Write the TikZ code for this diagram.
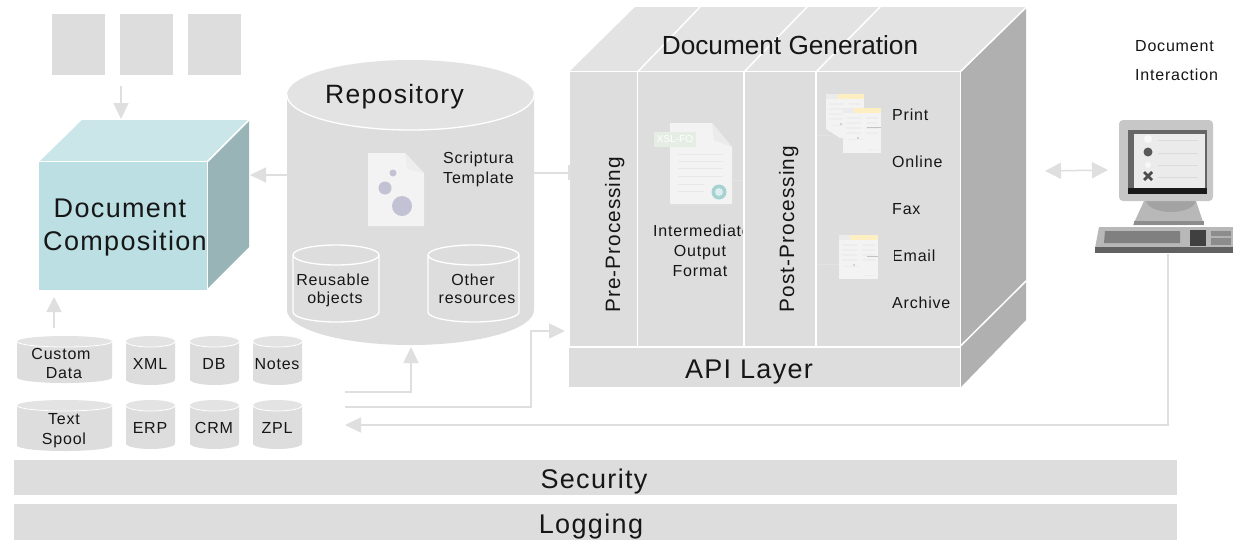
\documentclass[tikz,border=0pt]{standalone}
\usepackage{fontspec}
\setmainfont{Liberation Sans}
\newfontfamily\spc[LetterSpace=5]{Liberation Sans}
\usetikzlibrary{arrows.meta}
\definecolor{panel}{HTML}{DDDDDD}
\definecolor{topf}{HTML}{E3E3E3}
\definecolor{sidef}{HTML}{B0B0B0}
\definecolor{tealf}{HTML}{BBDFE2}
\definecolor{tealt}{HTML}{CBE6E8}
\definecolor{teals}{HTML}{98B4B7}
\definecolor{linec}{HTML}{DFDFDF}
\definecolor{paper}{HTML}{F3F3F3}
\definecolor{ink}{HTML}{161616}
\tikzset{
  conn/.style={draw=linec,line width=1.5pt},
  arr/.style={conn,-{Triangle[length=16pt,width=15pt]}},
  seam/.style={draw=white,line width=1.5pt},
  lbl/.style={inner sep=0pt,text=ink,font=\spc\fontsize{16pt}{18pt}\selectfont,anchor=base},
  lbll/.style={lbl,anchor=base west},
  big/.style={inner sep=0pt,text=ink,font=\spc\fontsize{27pt}{30pt}\selectfont,anchor=base},
  pageline/.style={draw=#1,line width=1pt},
  pageline/.default={black!13}
}
% x1 x2 ytop ybot ry
\newcommand{\dbcyl}[5]{%
  \fill[panel] (#1,{#3+#5}) -- (#2,{#3+#5}) -- (#2,{#4-#5})
     arc[start angle=0,end angle=180,x radius={(#2-#1)/2},y radius=#5] -- cycle;
  \fill[topf] ({(#1+#2)/2},{#3+#5}) ellipse[x radius={(#2-#1)/2},y radius=#5];
  \draw[white,line width=.8pt] (#1,{#3+#5}) arc[start angle=180,end angle=0,x radius={(#2-#1)/2},y radius=#5];
}
\newcommand{\incyl}[5]{%
  \draw[white,line width=1.3pt,fill=panel] (#1,{#3+#5}) -- (#1,{#4-#5})
     arc[start angle=180,end angle=0,x radius={(#2-#1)/2},y radius=#5] -- (#2,{#3+#5})
     arc[start angle=0,end angle=-180,x radius={(#2-#1)/2},y radius=#5];
  \draw[white,line width=1.3pt] (#1,{#3+#5}) arc[start angle=180,end angle=0,x radius={(#2-#1)/2},y radius=#5];
}
% x y w h yellowstart
\newcommand{\minidoc}[5]{%
  \fill[paper] (#1,#2) rectangle ++(#3,#4);
  \fill[black!8] (#1,#2) rectangle (#5,{#2+5});
  \fill[yellow!50!orange!22!white] (#5,#2) rectangle ({#1+#3},{#2+5});
  \foreach \yy in {10,15,20,25} {\draw[black!7,line width=1.1pt] ({#1+3},{#2+\yy}) -- ({#1+18},{#2+\yy});
     \draw[black!7,line width=1.1pt] ({#1+23},{#2+\yy}) -- ({#1+#3-3},{#2+\yy});}
  \draw[black!7,line width=1pt] ({#1+5},{#2+31}) -- ({#1+20},{#2+31});
  \fill[blue!25!black!22] ({#1+15},{#2+30}) circle (1.2);
  \draw[black!7,line width=1pt] ({#1+25},{#2+#4-4}) -- ({#1+#3-3},{#2+#4-4});
}
\begin{document}
\begin{tikzpicture}[x=1pt,y=-1pt]
\useasboundingbox (0,0) rectangle (1233,542);
\fill[white] (0,0) rectangle (1233,542);

% top squares
\fill[panel] (52,14) rectangle (105,75);
\fill[panel] (120,14) rectangle (173,75);
\fill[panel] (188,14) rectangle (241,75);
\coordinate (squares) at (121,86);

% Composition cube
\fill[tealt] (39,162) -- (82,120) -- (249,120) -- (208,161) -- cycle;
\fill[teals] (208,162) -- (249,120) -- (249,247) -- (208,288) -- cycle;
\fill[tealf] (39,162) rectangle (207,290);
\draw[seam] (39,161.5) -- (207.5,161.5) -- (207.5,290);
\draw[seam] (207.5,161.5) -- (249,120);
\coordinate (cubeN) at (121,119);
\coordinate (cubeE) at (250,175);
\coordinate (cubeS) at (54,297);
\node[big] (compA) at (120,217) {Document};
\node[big] (compB) at (125,250) {Composition};
\draw[arr] (squares) -- (cubeN);

% Repository
\fill[panel] (287,95) -- (534,95) -- (534,310) arc[start angle=0,end angle=180,x radius=123.5,y radius=35] -- cycle;
\fill[topf] (410.5,95) ellipse[x radius=123.5,y radius=35];
\draw[white,line width=1.3pt] (287,95) arc[start angle=180,end angle=0,x radius=123.5,y radius=35];
\node[big,font=\spc\fontsize{26.5pt}{30pt}\selectfont] (repo) at (394.5,103) {Repository};
\coordinate (repoW) at (287,175);
\coordinate (repoE) at (534,173);
\coordinate (repoS) at (411,347);
\draw[arr] (repoW) -- (cubeE);
% template icon
\fill[paper] (368,153) -- (405,153) -- (424,173) -- (424,226) -- (368,226) -- cycle;
\fill[black!7] (405,153) -- (407,169) -- (424,173) -- cycle;
\fill[blue!30!black!24] (402,206) circle (10);
\fill[blue!30!black!24] (385,188) circle (6.5);
\fill[blue!30!black!24] (393,173) circle (3.5);
\node[lbll] (tpA) at (443,163) {Scriptura};
\node[lbll] (tpB) at (443,183) {Template};
\incyl{293}{379}{245}{322}{10}
\incyl{428}{519}{245}{322}{10}
\node[lbl] (reA) at (333,285) {Reusable};
\node[lbl] (reB) at (335,303) {objects};
\node[lbl] (otA) at (473,285) {Other};
\node[lbl] (otB) at (477,303) {resources};

% Generation cube
\coordinate (genW) at (569,173);
\draw[conn] (repoE) -- (genW);
\fill[topf] (569,72) -- (635,7) -- (1026,7) -- (961,72) -- cycle;
\fill[sidef] (961,72) -- (1026,8) -- (1026,320) -- (961,387) -- cycle;
\fill[panel] (570,72) rectangle (960,346);
\fill[panel] (569,348) rectangle (960,387);
\fill[linec] (567.5,165) rectangle (570.5,180);
\fill[linec] (636,173) rectangle (638.5,188);
% intermediate column
\fill[paper] (670,123) -- (712,123) -- (732,147) -- (732,204) -- (670,204) -- cycle;
\fill[black!8] (712,123) -- (714,140) -- (732,147) -- cycle;
\foreach \yy in {154,161,168,176} {\draw[pageline=black!9] (678,\yy) -- (723,\yy);}
\foreach \yy in {184,191} {\draw[pageline=black!9] (678,\yy) -- (704,\yy);}
\fill[green!30!black!10!white] (654,132) rectangle (696,147);
\node[inner sep=0pt,text=white,font=\fontsize{10pt}{12pt}\selectfont] (xsl) at (675,139.5) {XSL-FO};
\fill[teal!35!white] (719,192) circle (7.5);
\fill[paper!60!teal!30!white] (719,192) circle (4);
\node[lbl] (imA) at (702,236) {Intermediate};
\node[lbl] (imB) at (700,256) {Output};
\node[lbl] (imC) at (700,276) {Format};
% post column covers the clipped label
\fill[panel] (744,72) rectangle (816,346);
\coordinate (imOut) at (733,180);
\coordinate (postL) at (744,180);
\draw[draw=topf,line width=1pt] (imOut) -- (postL);
% outputs
\coordinate (postAr) at (816,135);
\coordinate (postBr) at (816,264);
\coordinate (iconA) at (830,135);
\coordinate (iconB) at (839,264);
\draw[draw=topf,line width=1pt] (postAr) -- (iconA);
\draw[draw=topf,line width=1pt] (postBr) -- (iconB);
\minidoc{826}{94}{38}{35}{838}
\fill[paper] (826,129) -- (864,129) -- (864,138) -- (840,138) -- cycle;
\minidoc{843}{108}{38}{45}{854}
\draw[black!24,line width=1pt] (867,127) -- (881,127);
\minidoc{839}{235}{39}{44}{850}
\draw[black!24,line width=1pt] (867,256) -- (878,256);
\node[lbll] (oA) at (892,120) {Print};
\node[lbll] (oB) at (892,167) {Online};
\node[lbll] (oC) at (892,214) {Fax};
\node[lbll] (oD) at (892,261) {Email};
\fill[panel] (891,248) rectangle (894.4,262);
\node[lbll] (oE) at (892,308) {Archive};
% seams
\draw[seam] (569,347) -- (961,347);
\draw[seam] (569,71.5) -- (961,71.5);
\draw[seam] (960.5,71.5) -- (960.5,388);
\draw[seam] (960.5,71.5) -- (1026,7.5);
\draw[seam] (960.5,346) -- (1026,281);
\draw[seam] (637.5,72) -- (637.5,346);
\draw[seam] (744,72) -- (744,346);
\draw[seam] (816,72) -- (816,346);
\draw[seam] (637.5,72) -- (700,7);
\draw[seam] (744,72) -- (807,7);
\draw[seam] (816,72) -- (880,7);
\node[inner sep=0pt,text=ink,font=\fontsize{26.2pt}{30pt}\selectfont,anchor=base] (gen) at (790,54) {Document Generation};
\node[big] (api) at (749,378) {API Layer};
\node[inner sep=0pt,text=ink,font=\spc\fontsize{20.8pt}{24pt}\selectfont,rotate=90,anchor=base] (pre) at (620,235) {Pre-Processing};
\node[inner sep=0pt,text=ink,font=\spc\fontsize{20.8pt}{24pt}\selectfont,rotate=90,anchor=base] (post) at (794,229) {Post-Processing};

% Document Interaction
\node[lbll] (diA) at (1135,51) {Document};
\node[lbll] (diB) at (1135,80) {Interaction};
\coordinate (diL) at (1045,171);
\coordinate (diR) at (1108,170);
\draw[conn,{Triangle[length=16pt,width=16pt]}-{Triangle[length=16pt,width=16pt]}] (diL) -- (diR);

% computer
\fill[black!28] (1144,201) -- (1196,201) -- (1204,225) -- (1133,225) -- cycle;
\fill[black!45] (1134,221) rectangle (1204,225);
\fill[black!36] (1146,200) arc[start angle=180,end angle=0,x radius=25,y radius=12] -- cycle;
\fill[black!22,rounded corners=4pt] (1119,120) rectangle (1213,201);
\fill[black!60] (1128,130) rectangle (1207,193);
\fill[black!90] (1128,188) rectangle (1207,194);
\fill[black!8] (1134,134) rectangle (1205,188);
\fill[black!3] (1148,139) circle (4);
\fill[black!65] (1148,152) circle (4.5);
\fill[black!3] (1148,165) circle (3);
\draw[black!70,line width=2.8pt] (1144,172) -- (1152,180) (1152,172) -- (1144,180);
\foreach \yy in {140,153,165,177} {\draw[black!14,line width=1pt] (1158,\yy) -- (1198,\yy);}
\fill[black!28] (1099,227) -- (1233,227) -- (1233,248) -- (1095,248) -- cycle;
\fill[black!62] (1095,247) rectangle (1233,253);
\fill[black!50] (1105,231) -- (1180,231) -- (1180,243) -- (1104,243) -- cycle;
\fill[black!75] (1190,230) rectangle (1206,246);
\fill[black!45] (1211,231) rectangle (1231,245);
\fill[black!30] (1211,236) rectangle (1231,238);
\coordinate (compS) at (1168,254);

% data sources
\dbcyl{17}{112}{336}{383}{5.5}
\dbcyl{126}{175}{336}{385}{5.5}
\dbcyl{190}{239}{336}{385}{5.5}
\dbcyl{253}{302}{336}{385}{5.5}
\dbcyl{17}{112}{400}{451}{5.5}
\dbcyl{126}{175}{400}{449}{5.5}
\dbcyl{190}{239}{400}{449}{5.5}
\dbcyl{253}{302}{400}{449}{5.5}
\node[lbl] (cA) at (61,359) {Custom};
\node[lbl] (cB) at (64,378) {Data};
\node[lbl] (xml) at (150,369) {XML};
\node[lbl] (db) at (214,369) {DB};
\node[lbl] (notes) at (277,369) {Notes};
\node[lbl] (tA) at (64,424) {Text};
\node[lbl] (tB) at (64,444) {Spool};
\node[lbl] (erp) at (150,433) {ERP};
\node[lbl] (crm) at (214,433) {CRM};
\node[lbl] (zpl) at (277,433) {ZPL};
\coordinate (srcUp) at (54,328);
\coordinate (srcA) at (345,392);
\coordinate (srcB) at (345,407);
\coordinate (srcC) at (345,425);
\coordinate (genIn) at (565,331);
\draw[arr,-{Triangle[length=15pt,width=15pt]}] (srcUp) -- (cubeS);
\draw[arr,-{Triangle[length=16pt,width=15pt]}] (srcA) -| (repoS);
\draw[arr] (srcB) -| (531,331) -- (genIn);
\draw[arr] (compS) |- (srcC);

% bars
\fill[panel] (14,460) rectangle (1177,495);
\fill[panel] (14,504) rectangle (1177,540);
\node[big] (sec) at (594,488) {Security};
\node[big] (log) at (591,533) {Logging};
\end{tikzpicture}
\end{document}
